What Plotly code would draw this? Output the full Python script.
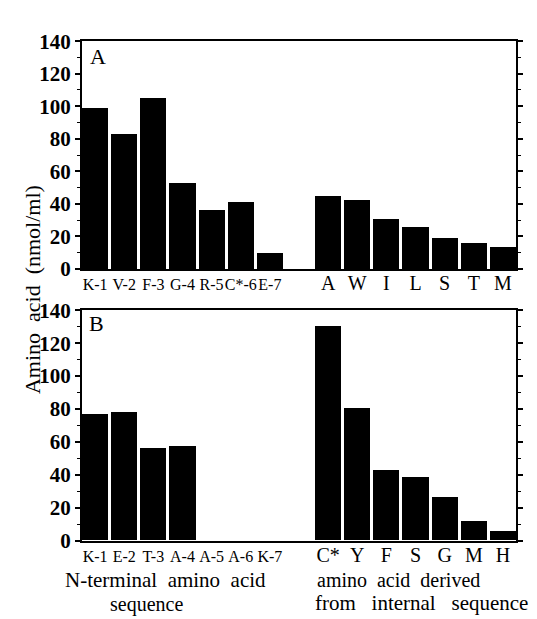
import plotly.graph_objects as go

# ---- data ----
a_left_labels = ["K-1", "V-2", "F-3", "G-4", "R-5", "C*-6", "E-7"]
a_left_values = [99, 83, 105, 53, 36, 41, 10]
a_right_labels = ["A", "W", "I", "L", "S", "T", "M"]
a_right_values = [45, 42, 30.5, 26, 19, 16, 13.5]

b_left_labels = ["K-1", "E-2", "T-3", "A-4", "A-5", "A-6", "K-7"]
b_left_values = [77, 78, 56, 57, 0, 0, 0]
b_right_labels = ["C*", "Y", "F", "S", "G", "M", "H"]
b_right_values = [130, 80.5, 42.5, 38.5, 26, 11.5, 5.5]

y_ticks = [0, 20, 40, 60, 80, 100, 120, 140]

left_pos = list(range(0, 7))
right_pos = list(range(8, 15))

FONT = "Liberation Serif"

def small(t):
    return t

def big(t):
    return '<span style="font-size:20px">' + t + '</span>'

fig = go.Figure()
for (lv, rv, ax) in [(a_left_values, a_right_values, ""), (b_left_values, b_right_values, "2")]:
    fig.add_trace(go.Bar(
        x=left_pos + right_pos, y=lv + rv,
        xaxis="x" + ax, yaxis="y" + ax,
        width=0.9, marker=dict(color="black", line=dict(width=0)),
        showlegend=False, hoverinfo="skip"))

xdom = [74 / 537, 508 / 537]
H = 619.0

common_x = dict(
    range=[-0.45, 14.45], showline=True, linewidth=2, linecolor="black",
    mirror=True, ticks="", showgrid=False, zeroline=False, tickangle=0,
    tickfont=dict(family=FONT, size=16, color="black"),
    domain=xdom, tickmode="array", tickvals=left_pos + right_pos,
)
common_y = dict(
    range=[0, 140], showline=True, linewidth=2, linecolor="black",
    mirror="ticks", ticks="outside", ticklen=5, tickwidth=1.5, tickcolor="black",
    showgrid=False, zeroline=False, tickmode="array", tickvals=y_ticks,
    tickfont=dict(family=FONT, size=21, color="black", weight="bold"),
    minor=dict(ticks="outside", ticklen=3, tickwidth=1, dtick=10, tickcolor="black", showgrid=False),
)

fig.update_layout(
    width=537, height=619,
    margin=dict(l=0, r=0, t=0, b=0),
    plot_bgcolor="white", paper_bgcolor="white",
    bargap=0,
    xaxis=dict(common_x, anchor="y",
               ticktext=[small(t) for t in a_left_labels] + [big(t) for t in a_right_labels]),
    yaxis=dict(common_y, anchor="x", domain=[1 - 259 / H, 1 - 22 / H]),
    xaxis2=dict(common_x, anchor="y2",
                ticktext=[small(t) for t in b_left_labels] + [big(t) for t in b_right_labels]),
    yaxis2=dict(common_y, anchor="x2", domain=[1 - 541.5 / H, 1 - 302 / H]),
)

ann = []
ann.append(dict(text="A", x=80 / 537, y=1 - 38 / H, xref="paper", yref="paper",
                xanchor="left", yanchor="middle", showarrow=False,
                font=dict(family=FONT, size=22, color="black")))
ann.append(dict(text="B", x=79 / 537, y=1 - 315.5 / H, xref="paper", yref="paper",
                xanchor="left", yanchor="middle", showarrow=False,
                font=dict(family=FONT, size=22, color="black")))
ann.append(dict(text="Amino  acid  (nmol/ml)", x=24 / 537, y=1 - 281 / H, xref="paper", yref="paper",
                xanchor="center", yanchor="middle", textangle=-90, showarrow=False,
                font=dict(family=FONT, size=22, color="black")))
ann.append(dict(text="N-terminal  amino  acid", x=55 / 537, y=1 - 583 / H, xref="paper", yref="paper",
                xanchor="left", yanchor="middle", showarrow=False,
                font=dict(family=FONT, size=21, color="black")))
ann.append(dict(text="sequence", x=100 / 537, y=1 - 608 / H, xref="paper", yref="paper",
                xanchor="left", yanchor="middle", showarrow=False,
                font=dict(family=FONT, size=20, color="black")))
ann.append(dict(text="amino  acid  derived", x=307 / 537, y=1 - 583 / H, xref="paper", yref="paper",
                xanchor="left", yanchor="middle", showarrow=False,
                font=dict(family=FONT, size=20, color="black")))
ann.append(dict(text="from   internal   sequence", x=305 / 537, y=1 - 607 / H, xref="paper", yref="paper",
                xanchor="left", yanchor="middle", showarrow=False,
                font=dict(family=FONT, size=21, color="black")))
fig.update_layout(annotations=ann)

fig.write_html("out.html")
